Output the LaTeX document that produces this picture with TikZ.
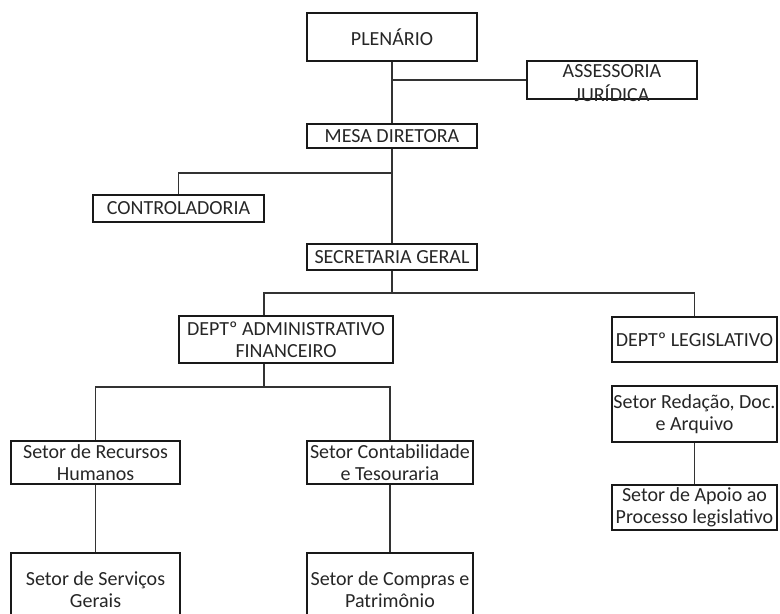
\documentclass[tikz,border=0pt]{standalone}
\usepackage{fontspec}
\setmainfont{Carlito}
\begin{document}
\begin{tikzpicture}[x=0.75pt,y=-0.75pt,
  box/.style={draw=black!90,line width=1.6pt,inner sep=0pt,align=center,
    font=\fontsize{15}{16.5}\selectfont,text=black!85},
  conn/.style={draw=black!80,line width=1.15pt}]
\useasboundingbox (0,0) rectangle (780,613);
\clip (0,0) rectangle (780,613);
% boxes
\node[box,minimum width=127.5pt,minimum height=36pt] (plen) at (392,37) {PLENÁRIO};
\node[box,minimum width=127.5pt,minimum height=28.5pt,
  label={[yshift=-2.5pt,align=center,font=\fontsize{15}{18}\selectfont,text=black!85]center:ASSESSORIA\\JURÍDICA}] (assess) at (612,80) {};
\node[box,minimum width=127.5pt,minimum height=18pt] (mesa) at (392,136) {MESA DIRETORA};
\node[box,minimum width=128.25pt,minimum height=20.25pt] (contr) at (178.5,208.5) {CONTROLADORIA};
\node[box,minimum width=127.5pt,minimum height=19.5pt] (sec) at (392,257) {SECRETARIA GERAL};
\node[box,minimum width=160.5pt,minimum height=35.25pt] (adm) at (286,339.5) {DEPTº ADMINISTRATIVO\\FINANCEIRO};
\node[box,minimum width=123.75pt,minimum height=33.75pt] (leg) at (694.5,339.5) {DEPTº LEGISLATIVO};
\node[box,minimum width=126.75pt,minimum height=32.25pt] (rh) at (95.5,462.5) {Setor de Recursos\\Humanos};
\node[box,minimum width=124.5pt,minimum height=32.25pt] (cont) at (390,462.5) {Setor Contabilidade\\e Tesouraria};
\node[box,minimum width=126.75pt,minimum height=55.5pt] (serv) at (95.5,590) {Setor de Serviços\\Gerais};
\node[box,minimum width=124.5pt,minimum height=55.5pt] (comp) at (390,590) {Setor de Compras e\\Patrimônio};
\node[box,minimum width=123.75pt,minimum height=42pt] (red) at (694.5,414) {Setor Redação, Doc.\\e Arquivo};
\node[box,minimum width=123.75pt,minimum height=33.75pt] (apoio) at (694.5,507.5) {Setor de Apoio ao\\Processo legislativo};
% junction coordinates
\coordinate (j1) at (392,80);
\coordinate (j2) at (392,173);
\coordinate (j3) at (392,293);
\coordinate (a1) at (264,293);
\coordinate (a2) at (264,387);
% connectors
\draw[conn] (plen.south) -- (mesa.north);
\draw[conn] (j1) -- (assess.west);
\draw[conn] (mesa.south) -- (sec.north);
\draw[conn] (j2) -| (contr.north);
\draw[conn] (sec.south) -- (j3);
\draw[conn] (a1 |- adm.north) -- (a1) -| (leg.north);
\draw[conn] (a2 |- adm.south) -- (a2);
\draw[conn] (rh.north) |- (a2) -| (cont.north);
\draw[conn] (rh.south) -- (serv.north);
\draw[conn] (cont.south) -- (comp.north);
\draw[conn] (red.south) -- (apoio.north);
\end{tikzpicture}
\end{document}
